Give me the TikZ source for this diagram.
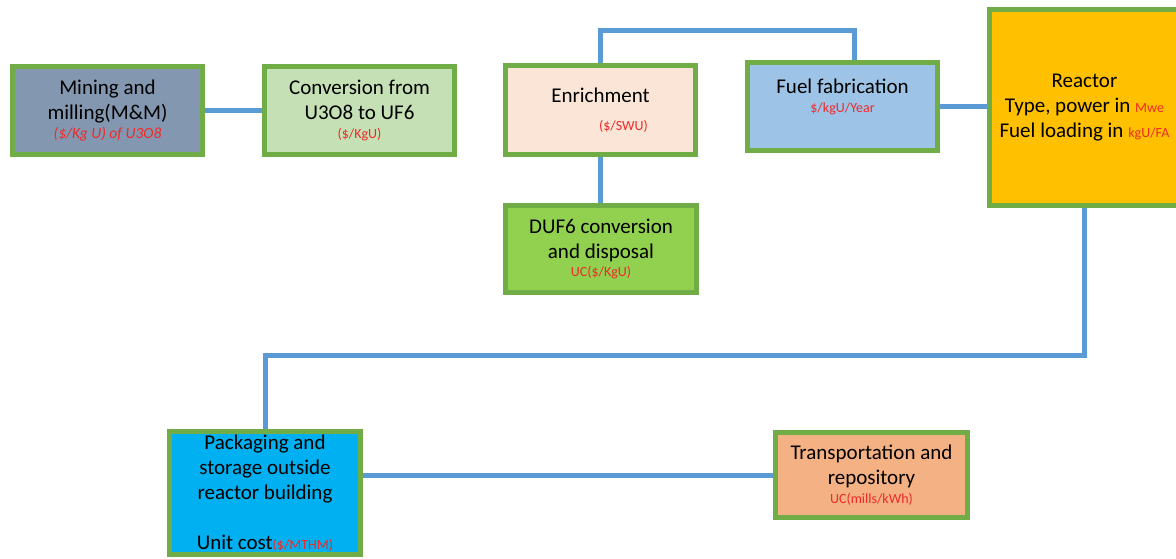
\documentclass[tikz,border=0pt]{standalone}
\usepackage{fontspec}
\setmainfont{Carlito}
\usepackage{xcolor}
\usetikzlibrary{backgrounds}

\definecolor{linkblue}{HTML}{5B9BD5}
\definecolor{boxgreen}{HTML}{70AD47}
\definecolor{costred}{HTML}{EE2A2A}
\newcommand{\cost}[1]{{\fontsize{14}{16}\selectfont\color{costred}#1}}

\begin{document}
\begin{tikzpicture}[x=1pt,y=-1pt,box/.style={draw=boxgreen,line width=5pt,minimum width=190pt,align=center,inner sep=2pt,font=\fontsize{21}{25}\selectfont},link/.style={draw=linkblue,line width=5pt}]
   \useasboundingbox (0,0) rectangle (1176,558);
   \node[box,fill={rgb,255:red,132;green,151;blue,176},minimum height=88pt] (mining) at (107.5,110.5) {Mining and\\milling(M\&M)\\[-6pt]\cost{\fontsize{15.5}{17}\selectfont\itshape (\$/Kg U) of U3O8}};
   \node[box,fill={rgb,255:red,197;green,224;blue,180},minimum height=88pt] (conv) at (359.5,110.5) {Conversion from\\U3O8 to UF6\\[-6pt]\cost{(\$/KgU)}};
   \node[box,fill={rgb,255:red,251;green,229;blue,214},minimum height=89pt] (enrich) at (600.5,110) {Enrichment\\[3pt]\hspace*{46pt}\cost{(\$/SWU)}};
   \node[box,fill={rgb,255:red,157;green,195;blue,230},minimum height=88pt,text depth=22pt] (fuel) at (842.5,106.5) {Fuel fabrication\\[-6pt]\cost{\$/kgU/Year}};
   \node[box,fill={rgb,255:red,255;green,192;blue,0},minimum height=196pt] (reactor) at (1084.5,107.5) {Reactor\\Type, power in \cost{Mwe}\\Fuel loading in \cost{kgU/FA}};
   \node[box,fill={rgb,255:red,146;green,208;blue,80},minimum width=191pt,minimum height=87pt] (duf6) at (601,249) {DUF6 conversion\\and disposal\\[-7pt]\cost{UC(\$/KgU)}};
   \node[box,fill={rgb,255:red,0;green,176;blue,240},minimum width=191pt,minimum height=123pt] (pack) at (265,493) {Packaging and\\storage outside\\reactor building\\[25pt]Unit cost\cost{(\$/MTHM)}};
   \node[box,fill={rgb,255:red,244;green,177;blue,131},minimum width=192pt,minimum height=85pt] (trans) at (871.5,475) {Transportation and\\repository\\[-6pt]\cost{UC(mills/kWh)}};
   \begin{scope}[on background layer]
   \draw[link] (mining) -- (conv);
   \draw[link] (enrich.north) -- (enrich.north |- 0,30) -| ([xshift=11.5pt]fuel.north);
   \draw[link] (fuel.east) -- (fuel.east -| reactor.west);
   \draw[link] (enrich.south) -- (enrich.south |- duf6.north);
   \draw[link] (reactor.south) -- (reactor.south |- 0,355) -| (pack.north);
   \draw[link] (trans.west) -- (trans.west -| pack.east);
   \end{scope}
\end{tikzpicture}
\end{document}
